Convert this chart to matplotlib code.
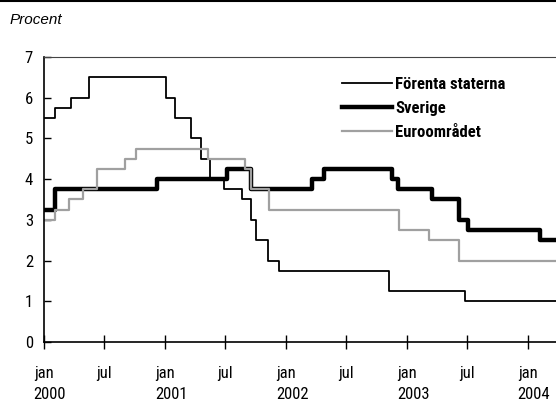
import datetime as dt
import matplotlib
matplotlib.use("Agg")
import matplotlib.pyplot as plt
from matplotlib.lines import Line2D
from matplotlib import font_manager

names = {f.name for f in font_manager.fontManager.ttflist}
cond = next((n for n in ["Roboto Condensed", "Liberation Sans Narrow", "Archivo Narrow"] if n in names),
            "DejaVu Sans")
plt.rcParams['font.family'] = [cond, 'DejaVu Sans']

D = dt.date
start = D(2000, 1, 1)
end = D(2004, 3, 25)

# Förenta staterna
us_dates = [D(2000, 1, 1), D(2000, 2, 2), D(2000, 3, 21), D(2000, 5, 16), D(2001, 1, 3),
            D(2001, 1, 31), D(2001, 3, 20), D(2001, 4, 18), D(2001, 5, 15), D(2001, 6, 27),
            D(2001, 8, 21), D(2001, 9, 17), D(2001, 10, 2), D(2001, 11, 6), D(2001, 12, 11),
            D(2002, 11, 6), D(2003, 6, 25)]
us_rates = [5.5, 5.75, 6.0, 6.5, 6.0, 5.5, 5.0, 4.5, 4.0, 3.75, 3.5, 3.0, 2.5, 2.0, 1.75, 1.25, 1.0]

# Sverige
se_dates = [D(2000, 1, 1), D(2000, 2, 4), D(2000, 12, 8), D(2001, 7, 6), D(2001, 9, 17),
            D(2002, 3, 19), D(2002, 4, 26), D(2002, 11, 15), D(2002, 12, 5), D(2003, 3, 17),
            D(2003, 6, 5), D(2003, 7, 4), D(2004, 2, 6)]
se_rates = [3.25, 3.75, 4.0, 4.25, 3.75, 4.0, 4.25, 4.0, 3.75, 3.5, 3.0, 2.75, 2.5]

# Euroområdet
ez_dates = [D(2000, 1, 1), D(2000, 2, 4), D(2000, 3, 17), D(2000, 4, 28), D(2000, 6, 9),
            D(2000, 9, 1), D(2000, 10, 6), D(2001, 5, 11), D(2001, 8, 31), D(2001, 9, 18),
            D(2001, 11, 9), D(2002, 12, 6), D(2003, 3, 7), D(2003, 6, 6)]
ez_rates = [3.0, 3.25, 3.5, 3.75, 4.25, 4.5, 4.75, 4.5, 4.25, 3.75, 3.25, 2.75, 2.5, 2.0]

tick_dates = [D(y, m, 1) for y in range(2000, 2005) for m in (1, 7) if D(y, m, 1) <= end]
tick_labels = ["jan" if d.month == 1 else "jul" for d in tick_dates]
years = [2000, 2001, 2002, 2003, 2004]

W, H = 556, 401
fig = plt.figure(figsize=(W / 100, H / 100), dpi=100)
ax = fig.add_axes([44 / W, (H - 342) / H, (W - 44) / W, (342 - 57) / H])

def stepline(dates, rates, **kw):
    ax.step(dates + [end], rates + [rates[-1]], where='post', **kw)

stepline(us_dates, us_rates, color='black', lw=1.3, label='Förenta staterna')
stepline(se_dates, se_rates, color='black', lw=3.2, label='Sverige')
stepline(ez_dates, ez_rates, color='#a0a0a0', lw=1.6, label='Euroområdet')

ax.set_xlim(start, end)
ax.set_ylim(0, 7)
ax.set_yticks(range(0, 8))
ax.set_xticks(tick_dates)
ax.set_xticklabels(tick_labels)
ax.tick_params(axis='x', direction='inout', length=10, width=1, labelsize=12, pad=12)
ax.tick_params(axis='y', direction='in', length=5, width=1, labelsize=12, pad=8)
ax.spines['right'].set_visible(False)
ax.spines['top'].set_color('#444444')
for s in ('left', 'bottom'):
    ax.spines[s].set_linewidth(1.2)

for y in years:
    ax.annotate(str(y), xy=(D(y, 1, 1), 0), xycoords=('data', 'axes fraction'),
                xytext=(-7.5, -37.5), textcoords='offset points', ha='left', va='center',
                fontsize=12, annotation_clip=False)

ax.legend(loc='upper left', bbox_to_anchor=(327 / W, 1 - 62 / H), bbox_transform=fig.transFigure,
          frameon=False, handlelength=3.0, handletextpad=0.2, labelspacing=0.55,
          prop={'weight': 'bold', 'size': 12})

fig.add_artist(Line2D([0, 1], [1 - 1 / H, 1 - 1 / H], color='black', lw=1.5, transform=fig.transFigure))
fig.text(10 / W, 1 - 20 / H, "Procent", fontsize=11, style='italic', family='Liberation Sans', va='center')

fig.savefig('out.png', dpi=100)
